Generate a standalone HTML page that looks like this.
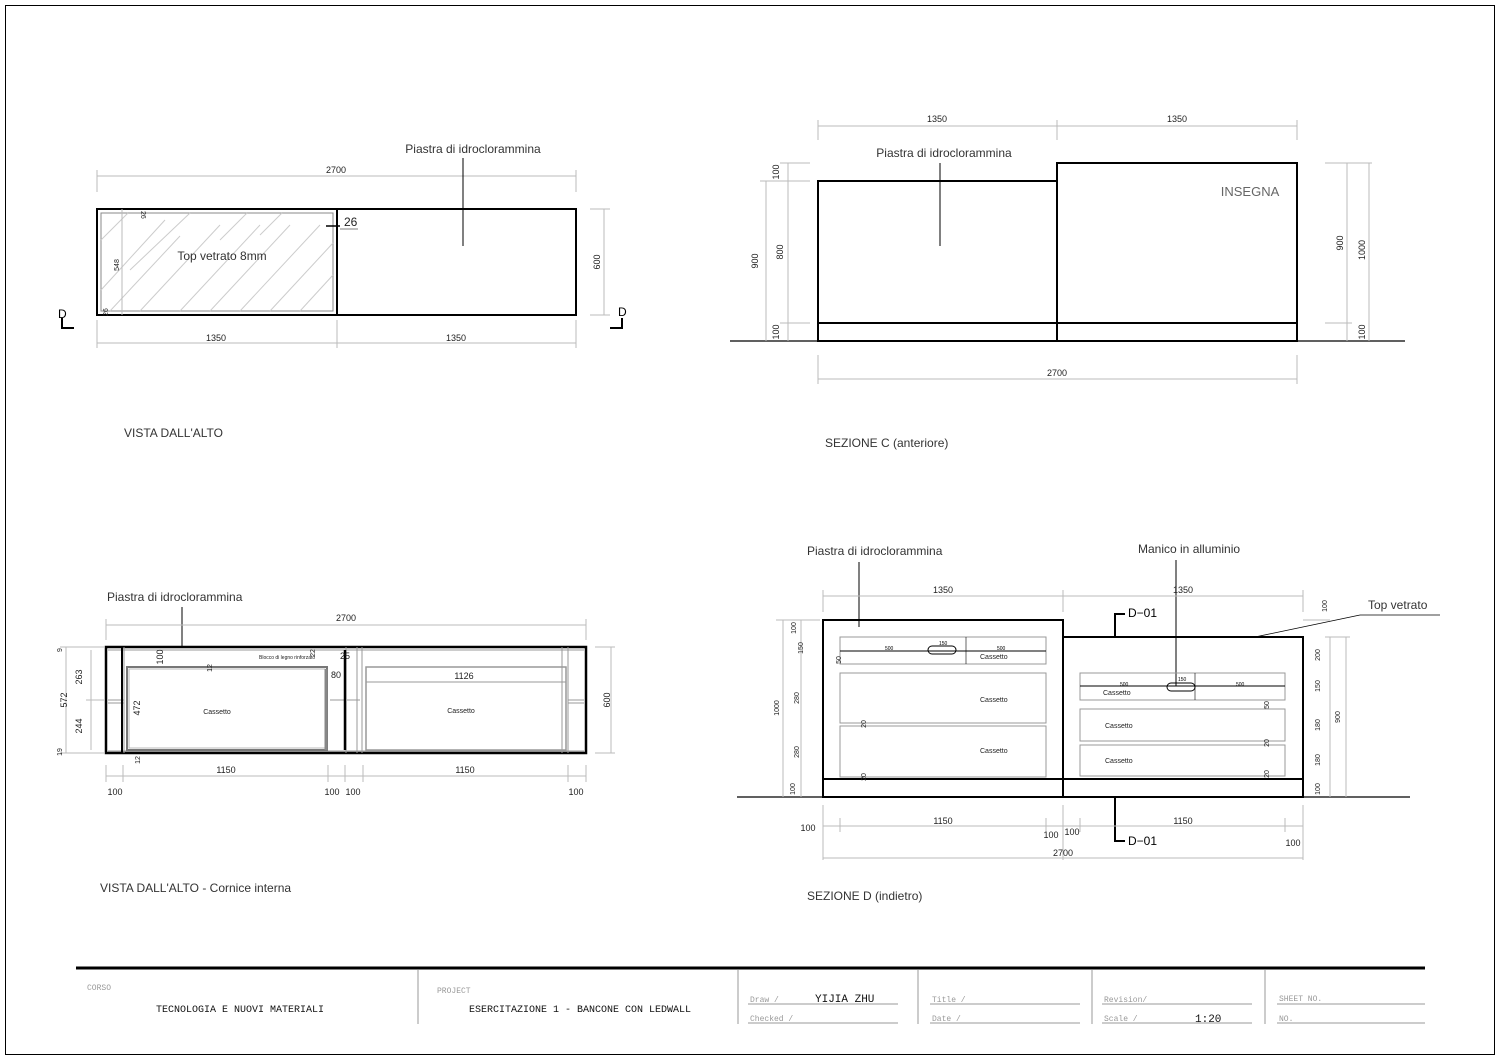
<!DOCTYPE html>
<html><head><meta charset="utf-8"><style>
html,body{margin:0;padding:0;background:#fff;}
svg{display:block;font-family:"Liberation Sans",sans-serif;}
.d{stroke:#bbb;stroke-width:1;fill:none}
.k{stroke:#000;fill:none}
.t{font-size:10px;fill:#222}
.m{font-size:9px;fill:#222}
.s{font-size:7px;fill:#222}
.g{font-size:12px;fill:#333}
.mono{font-family:"Liberation Mono",monospace}
</style></head><body>
<svg width="1500" height="1060" viewBox="0 0 1500 1060" xmlns="http://www.w3.org/2000/svg">
<rect x="5.5" y="5.5" width="1489" height="1049" fill="none" stroke="#000" stroke-width="1"/>

<!-- ===== VISTA DALL'ALTO ===== -->
<line class="d" x1="97" y1="176" x2="576" y2="176"/><line class="d" x1="97" y1="170" x2="97" y2="192"/><line class="d" x1="576" y1="170" x2="576" y2="192"/>
<text class="m" x="336" y="173" text-anchor="middle">2700</text>
<rect x="97" y="209" width="479" height="106" class="k" stroke-width="2"/>
<line class="k" x1="337" y1="209" x2="337" y2="315" stroke-width="2"/>
<rect x="101" y="213" width="232" height="98" fill="none" stroke="#888"/>
<g stroke="#ccc" stroke-width="1">
<line x1="101" y1="240" x2="128" y2="213"/><line x1="101" y1="290" x2="165" y2="220"/><line x1="110" y1="311" x2="180" y2="236"/>
<line x1="140" y1="311" x2="220" y2="225"/><line x1="180" y1="311" x2="260" y2="225"/><line x1="210" y1="311" x2="290" y2="225"/>
<line x1="240" y1="311" x2="320" y2="225"/><line x1="270" y1="311" x2="333" y2="243"/><line x1="300" y1="311" x2="333" y2="275"/>
<line x1="220" y1="240" x2="247" y2="213"/><line x1="260" y1="235" x2="282" y2="213"/><line x1="130" y1="270" x2="190" y2="213"/>
</g>
<line class="d" x1="122" y1="209" x2="122" y2="315"/>
<text class="g" x="222" y="260" text-anchor="middle">Top vetrato 8mm</text>
<text class="s" transform="translate(119,265) rotate(-90)" text-anchor="middle">548</text>
<text class="s" transform="translate(141,211) rotate(90)">26</text>
<text class="s" transform="translate(108,316) rotate(-90)">26</text>
<line class="k" x1="326" y1="226" x2="340" y2="226" stroke-width="1.5"/><line class="k" x1="340" y1="229" x2="358" y2="229" stroke-width="0.6"/>
<text x="344" y="226" font-size="12" fill="#222">26</text>
<line class="k" x1="463" y1="158" x2="463" y2="246"/>
<text class="g" x="473" y="153" text-anchor="middle">Piastra di idroclorammina</text>
<line class="d" x1="97" y1="343" x2="576" y2="343"/><line class="d" x1="97" y1="320" x2="97" y2="348"/><line class="d" x1="337" y1="320" x2="337" y2="348"/><line class="d" x1="576" y1="320" x2="576" y2="348"/>
<text class="m" x="216" y="341" text-anchor="middle">1350</text><text class="m" x="456" y="341" text-anchor="middle">1350</text>
<line class="d" x1="604" y1="209" x2="604" y2="315"/><line class="d" x1="590" y1="209" x2="610" y2="209"/><line class="d" x1="590" y1="315" x2="610" y2="315"/>
<text class="m" transform="translate(600,262) rotate(-90)" text-anchor="middle">600</text>
<path d="M62 318v10h12" class="k" stroke-width="2"/><text x="58" y="318" font-size="12">D</text>
<path d="M622 318v10h-12" class="k" stroke-width="2"/><text x="618" y="316" font-size="12">D</text>
<text class="g" x="124" y="437">VISTA DALL'ALTO</text>

<!-- ===== SEZIONE C ===== -->
<line class="d" x1="818" y1="126" x2="1297" y2="126"/><line class="d" x1="818" y1="120" x2="818" y2="140"/><line class="d" x1="1057" y1="120" x2="1057" y2="140"/><line class="d" x1="1297" y1="120" x2="1297" y2="140"/>
<text class="m" x="937" y="122" text-anchor="middle">1350</text><text class="m" x="1177" y="122" text-anchor="middle">1350</text>
<line class="k" x1="730" y1="341" x2="1405" y2="341" stroke-width="1.2"/>
<rect x="818" y="181" width="239" height="160" class="k" stroke-width="2"/>
<rect x="1057" y="163" width="240" height="178" class="k" stroke-width="2"/>
<line class="k" x1="818" y1="323" x2="1297" y2="323" stroke-width="2"/>
<line class="k" x1="940" y1="163" x2="940" y2="246"/>
<text class="g" x="944" y="157" text-anchor="middle">Piastra di idroclorammina</text>
<text x="1250" y="196" font-size="13" fill="#666" text-anchor="middle">INSEGNA</text>
<line class="d" x1="788" y1="163" x2="788" y2="341"/><line class="d" x1="766" y1="181" x2="766" y2="341"/>
<line class="d" x1="780" y1="163" x2="810" y2="163"/><line class="d" x1="760" y1="181" x2="810" y2="181"/><line class="d" x1="780" y1="323" x2="810" y2="323"/>
<text class="m" transform="translate(779,172) rotate(-90)" text-anchor="middle">100</text>
<text class="m" transform="translate(783,252) rotate(-90)" text-anchor="middle">800</text>
<text class="m" transform="translate(779,332) rotate(-90)" text-anchor="middle">100</text>
<text class="m" transform="translate(758,261) rotate(-90)" text-anchor="middle">900</text>
<line class="d" x1="1347" y1="163" x2="1347" y2="341"/><line class="d" x1="1369" y1="163" x2="1369" y2="341"/>
<line class="d" x1="1325" y1="163" x2="1372" y2="163"/><line class="d" x1="1325" y1="323" x2="1352" y2="323"/>
<text class="m" transform="translate(1343,243) rotate(-90)" text-anchor="middle">900</text>
<text class="m" transform="translate(1365,250) rotate(-90)" text-anchor="middle">1000</text>
<text class="m" transform="translate(1365,332) rotate(-90)" text-anchor="middle">100</text>
<line class="d" x1="818" y1="379" x2="1297" y2="379"/><line class="d" x1="818" y1="355" x2="818" y2="384"/><line class="d" x1="1297" y1="355" x2="1297" y2="384"/>
<text class="m" x="1057" y="376" text-anchor="middle">2700</text>
<text class="g" x="825" y="447">SEZIONE C (anteriore)</text>

<!-- ===== VISTA DALL'ALTO - Cornice interna ===== -->
<text class="g" x="107" y="601">Piastra di idroclorammina</text>
<line class="k" x1="182" y1="607" x2="182" y2="647"/>
<line class="d" x1="106" y1="625" x2="586" y2="625"/><line class="d" x1="106" y1="619" x2="106" y2="640"/><line class="d" x1="586" y1="619" x2="586" y2="640"/>
<text class="m" x="346" y="621" text-anchor="middle">2700</text>
<rect x="106" y="647" width="480" height="106" class="k" stroke-width="2.5"/>
<g stroke="#999" fill="none">
<line x1="108" y1="650" x2="584" y2="650"/><line x1="108" y1="751" x2="584" y2="751"/>
<line x1="124" y1="647" x2="124" y2="753"/><line x1="568" y1="647" x2="568" y2="753"/><line x1="562" y1="647" x2="562" y2="753"/>
<line x1="346" y1="647" x2="346" y2="753"/><line x1="357" y1="647" x2="357" y2="753"/><line x1="362" y1="647" x2="362" y2="753"/>
<line x1="108" y1="700" x2="124" y2="700"/><line x1="108" y1="703" x2="124" y2="703"/><line x1="568" y1="700" x2="584" y2="700"/><line x1="568" y1="703" x2="584" y2="703"/>
<line x1="330" y1="700" x2="344" y2="700"/><line x1="347" y1="700" x2="360" y2="700"/>
</g>
<line class="k" x1="122" y1="647" x2="122" y2="753" stroke-width="2"/>
<line class="k" x1="345" y1="650" x2="345" y2="750" stroke-width="2.5"/>
<rect x="127" y="667" width="200" height="83" fill="none" stroke="#777" stroke-width="2"/>
<rect x="129" y="669" width="196" height="79" fill="none" stroke="#bbb"/>
<rect x="366" y="667" width="200" height="83" fill="none" stroke="#999" stroke-width="1.5"/>
<line x1="366" y1="682" x2="566" y2="682" stroke="#999"/>
<line x1="326" y1="669" x2="326" y2="750" stroke="#888" stroke-width="3"/>
<text class="s" x="217" y="714" text-anchor="middle">Cassetto</text>
<text class="s" x="461" y="713" text-anchor="middle">Cassetto</text>
<text class="m" x="464" y="679" text-anchor="middle">1126</text>
<text class="m" transform="translate(163,657) rotate(-90)" text-anchor="middle">100</text>
<text class="s" transform="translate(212,668) rotate(-90)" text-anchor="middle">12</text>
<text class="m" transform="translate(140,708) rotate(-90)" text-anchor="middle">472</text>
<text class="s" transform="translate(140,760) rotate(-90)" text-anchor="middle">12</text>
<text class="m" x="331" y="678">80</text>
<text x="259" y="659" font-size="5" fill="#222">Blocco di legno rinforzato</text>
<text class="s" transform="translate(315,653) rotate(-90)" text-anchor="middle">22</text>
<text class="m" x="340" y="659">25</text>
<g stroke="#bbb"><line x1="66" y1="647" x2="66" y2="753"/><line x1="91" y1="650" x2="91" y2="750"/>
<line x1="60" y1="647" x2="104" y2="647"/><line x1="60" y1="753" x2="104" y2="753"/><line x1="86" y1="700" x2="104" y2="700"/></g>
<text class="s" transform="translate(62,650) rotate(-90)" text-anchor="middle">9</text>
<text class="m" transform="translate(67,700) rotate(-90)" text-anchor="middle">572</text>
<text class="m" transform="translate(82,677) rotate(-90)" text-anchor="middle">263</text>
<text class="m" transform="translate(82,726) rotate(-90)" text-anchor="middle">244</text>
<text class="s" transform="translate(62,752) rotate(-90)" text-anchor="middle">19</text>
<line class="d" x1="611" y1="647" x2="611" y2="753"/><line class="d" x1="595" y1="647" x2="615" y2="647"/><line class="d" x1="595" y1="753" x2="615" y2="753"/>
<text class="m" transform="translate(610,700) rotate(-90)" text-anchor="middle">600</text>
<line class="d" x1="106" y1="776" x2="586" y2="776"/>
<g stroke="#bbb"><line x1="106" y1="765" x2="106" y2="782"/><line x1="123" y1="765" x2="123" y2="782"/><line x1="328" y1="765" x2="328" y2="782"/><line x1="345" y1="765" x2="345" y2="782"/><line x1="363" y1="765" x2="363" y2="782"/><line x1="568" y1="765" x2="568" y2="782"/><line x1="586" y1="765" x2="586" y2="782"/></g>
<text class="m" x="226" y="773" text-anchor="middle">1150</text><text class="m" x="465" y="773" text-anchor="middle">1150</text>
<text class="m" x="115" y="795" text-anchor="middle">100</text><text class="m" x="332" y="795" text-anchor="middle">100</text><text class="m" x="353" y="795" text-anchor="middle">100</text><text class="m" x="576" y="795" text-anchor="middle">100</text>
<text class="g" x="100" y="892">VISTA DALL'ALTO - Cornice interna</text>

<!-- ===== SEZIONE D ===== -->
<text class="g" x="807" y="555">Piastra di idroclorammina</text>
<line class="k" x1="859" y1="562" x2="859" y2="627"/>
<text class="g" x="1138" y="553">Manico in alluminio</text>
<line class="k" x1="1176" y1="560" x2="1176" y2="686"/>
<line class="d" x1="823" y1="596" x2="1303" y2="596"/><line class="d" x1="823" y1="590" x2="823" y2="612"/><line class="d" x1="1063" y1="590" x2="1063" y2="612"/><line class="d" x1="1303" y1="590" x2="1303" y2="612"/>
<text class="m" x="943" y="593" text-anchor="middle">1350</text><text class="m" x="1183" y="593" text-anchor="middle">1350</text>
<line class="k" x1="737" y1="797" x2="1410" y2="797" stroke-width="1.2"/>
<rect x="823" y="620" width="240" height="177" class="k" stroke-width="2"/>
<path d="M1063 637H1303V797H1063" class="k" stroke-width="2"/>
<line x1="1063" y1="637" x2="1303" y2="637" stroke="#000" stroke-width="2" stroke-dasharray="4,3"/>
<line class="k" x1="823" y1="779" x2="1303" y2="779" stroke-width="2"/>
<path d="M1115 637V614h10" class="k" stroke-width="2"/><text x="1128" y="617" font-size="12">D−01</text>
<path d="M1115 797V841h10" class="k" stroke-width="2"/><text x="1128" y="845" font-size="12">D−01</text>
<text class="g" x="1368" y="609">Top vetrato</text>
<line class="k" x1="1255" y1="637" x2="1360" y2="615" stroke-width="0.8"/><line class="k" x1="1360" y1="615" x2="1440" y2="615" stroke-width="0.8"/>
<g fill="none" stroke="#999">
<rect x="840" y="637" width="206" height="27"/><rect x="840" y="673" width="206" height="50"/><rect x="840" y="726" width="206" height="51"/>
<rect x="1080" y="673" width="205" height="27"/><rect x="1080" y="709" width="205" height="32"/><rect x="1080" y="745" width="205" height="31"/>
</g>
<line class="k" x1="840" y1="651" x2="1046" y2="651"/><line class="k" x1="1080" y1="686" x2="1285" y2="686"/>
<rect x="928" y="646" width="28" height="8" rx="4" fill="none" stroke="#000"/>
<rect x="1167" y="683" width="28" height="8" rx="4" fill="none" stroke="#000"/>
<line class="k" x1="966" y1="637" x2="966" y2="664" stroke-width="0.6"/><line class="k" x1="1195" y1="673" x2="1195" y2="700" stroke-width="0.6"/>
<text x="885" y="650" font-size="5">500</text><text x="997" y="650" font-size="5">500</text><text x="939" y="645" font-size="5">150</text>
<text x="1120" y="686" font-size="5">500</text><text x="1236" y="686" font-size="5">500</text><text x="1178" y="681" font-size="5">150</text>
<text class="s" x="980" y="659">Cassetto</text><text class="s" x="980" y="702">Cassetto</text><text class="s" x="980" y="753">Cassetto</text>
<text class="s" x="1103" y="695">Cassetto</text><text class="s" x="1105" y="728">Cassetto</text><text class="s" x="1105" y="763">Cassetto</text>
<text class="s" transform="translate(841,660) rotate(-90)" text-anchor="middle">50</text>
<text class="s" transform="translate(866,724) rotate(-90)" text-anchor="middle">20</text>
<text class="s" transform="translate(866,777) rotate(-90)" text-anchor="middle">20</text>
<text class="s" transform="translate(1269,705) rotate(-90)" text-anchor="middle">50</text>
<text class="s" transform="translate(1269,743) rotate(-90)" text-anchor="middle">20</text>
<text class="s" transform="translate(1269,774) rotate(-90)" text-anchor="middle">20</text>
<g stroke="#bbb"><line x1="783" y1="620" x2="783" y2="797"/><line x1="801" y1="620" x2="801" y2="797"/><line x1="776" y1="620" x2="820" y2="620"/></g>
<text class="s" transform="translate(796,628) rotate(-90)" text-anchor="middle">100</text>
<text class="s" transform="translate(803,648) rotate(-90)" text-anchor="middle">150</text>
<text class="s" transform="translate(799,698) rotate(-90)" text-anchor="middle">280</text>
<text class="s" transform="translate(799,752) rotate(-90)" text-anchor="middle">280</text>
<text class="s" transform="translate(795,789) rotate(-90)" text-anchor="middle">100</text>
<text class="s" transform="translate(779,708) rotate(-90)" text-anchor="middle">1000</text>
<g stroke="#bbb"><line x1="1330" y1="637" x2="1330" y2="797"/><line x1="1346" y1="637" x2="1346" y2="797"/><line x1="1303" y1="620" x2="1330" y2="620"/><line x1="1325" y1="637" x2="1350" y2="637"/></g>
<text class="s" transform="translate(1327,606) rotate(-90)" text-anchor="middle">100</text>
<text class="s" transform="translate(1320,655) rotate(-90)" text-anchor="middle">200</text>
<text class="s" transform="translate(1320,686) rotate(-90)" text-anchor="middle">150</text>
<text class="s" transform="translate(1320,725) rotate(-90)" text-anchor="middle">180</text>
<text class="s" transform="translate(1320,760) rotate(-90)" text-anchor="middle">180</text>
<text class="s" transform="translate(1320,789) rotate(-90)" text-anchor="middle">100</text>
<text class="s" transform="translate(1340,717) rotate(-90)" text-anchor="middle">900</text>
<line class="d" x1="823" y1="826" x2="1303" y2="826"/>
<g stroke="#bbb"><line x1="840" y1="818" x2="840" y2="832"/><line x1="1046" y1="818" x2="1046" y2="832"/><line x1="1063" y1="805" x2="1063" y2="860"/><line x1="1080" y1="818" x2="1080" y2="832"/><line x1="1285" y1="818" x2="1285" y2="832"/><line x1="823" y1="805" x2="823" y2="860"/><line x1="1303" y1="805" x2="1303" y2="860"/></g>
<text class="m" x="943" y="824" text-anchor="middle">1150</text><text class="m" x="1183" y="824" text-anchor="middle">1150</text>
<text class="m" x="808" y="831" text-anchor="middle">100</text><text class="m" x="1051" y="838" text-anchor="middle">100</text><text class="m" x="1072" y="835" text-anchor="middle">100</text><text class="m" x="1293" y="846" text-anchor="middle">100</text>
<line class="d" x1="823" y1="858" x2="1303" y2="858"/>
<text class="m" x="1063" y="856" text-anchor="middle">2700</text>
<text class="g" x="807" y="900">SEZIONE D (indietro)</text>

<!-- ===== TITLE BLOCK ===== -->
<line x1="76" y1="968" x2="1425" y2="968" stroke="#000" stroke-width="3"/>
<g stroke="#999"><line x1="418" y1="970" x2="418" y2="1024"/><line x1="738" y1="970" x2="738" y2="1024"/><line x1="918" y1="970" x2="918" y2="1024"/><line x1="1092" y1="970" x2="1092" y2="1024"/><line x1="1265" y1="970" x2="1265" y2="1024"/>
<line x1="748" y1="1004" x2="898" y2="1004"/><line x1="748" y1="1023" x2="898" y2="1023"/><line x1="930" y1="1004" x2="1080" y2="1004"/><line x1="930" y1="1023" x2="1080" y2="1023"/>
<line x1="1102" y1="1004" x2="1252" y2="1004"/><line x1="1102" y1="1023" x2="1252" y2="1023"/><line x1="1277" y1="1004" x2="1425" y2="1004"/><line x1="1277" y1="1023" x2="1425" y2="1023"/></g>
<g class="mono" font-size="8" fill="#999">
<text x="87" y="990">CORSO</text><text x="437" y="993">PROJECT</text>
<text x="750" y="1002">Draw   /</text><text x="750" y="1021">Checked /</text>
<text x="932" y="1002">Title /</text><text x="932" y="1021">Date  /</text>
<text x="1104" y="1002">Revision/</text><text x="1104" y="1021">Scale    /</text>
<text x="1279" y="1001">SHEET NO.</text><text x="1279" y="1021">NO.</text>
</g>
<g class="mono" font-size="10" fill="#111">
<text x="156" y="1012">TECNOLOGIA E NUOVI MATERIALI</text>
<text x="469" y="1012">ESERCITAZIONE 1 - BANCONE CON LEDWALL</text>
<text x="815" y="1002" font-size="11">YIJIA ZHU</text>
<text x="1195" y="1022" font-size="11">1:20</text>
</g>
</svg>
</body></html>
